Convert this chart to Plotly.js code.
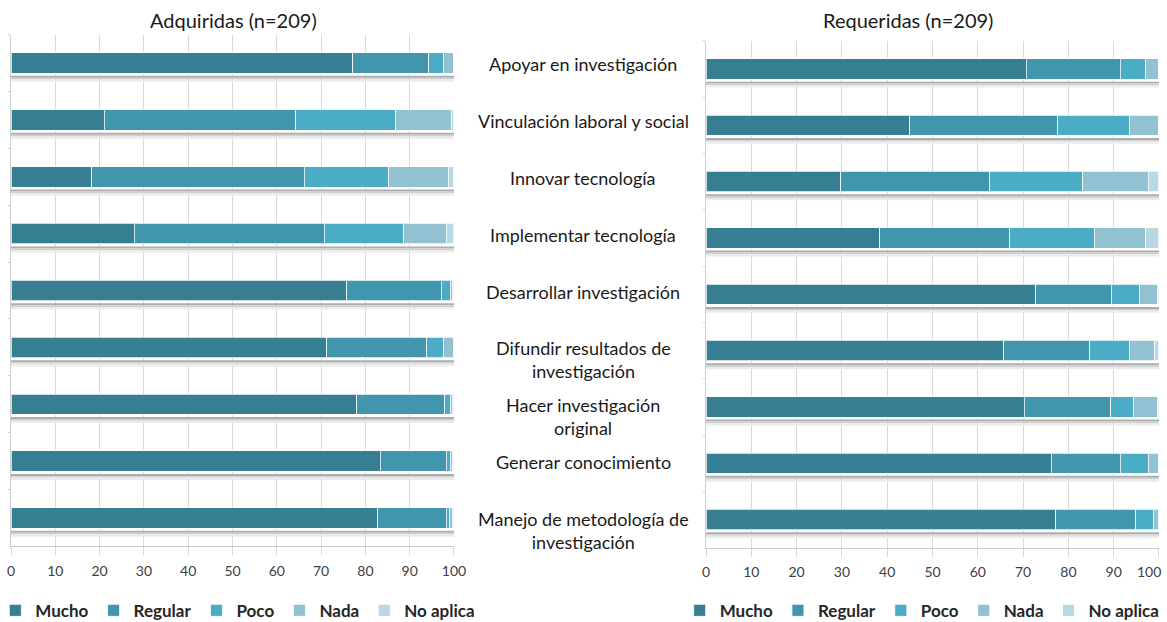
<!DOCTYPE html>
<html>
<head>
<meta charset="utf-8">
<script src="https://cdn.plot.ly/plotly-3.0.1.min.js"></script>
<style>html,body{margin:0;padding:0;background:#fff;}#chart{width:1167px;height:622px;}</style>
</head>
<body>
<div id="chart"></div>
<script>
const categories = [
  'Apoyar en investigación',
  'Vinculación laboral y social',
  'Innovar tecnología',
  'Implementar tecnología',
  'Desarrollar investigación',
  'Difundir resultados de investigación',
  'Hacer investigación original',
  'Generar conocimiento',
  'Manejo de metodología de investigación'
];
const categoryLabels = [
  'Apoyar en investigación',
  'Vinculación laboral y social',
  'Innovar tecnología',
  'Implementar tecnología',
  'Desarrollar investigación',
  'Difundir resultados de<br>investigación',
  'Hacer investigación<br>original',
  'Generar conocimiento',
  'Manejo de metodología de<br>investigación'
];
const seriesNames = ['Mucho', 'Regular', 'Poco', 'Nada', 'No aplica'];

// Adquiridas (n=209), %
const adqMucho    = [77.1, 21.0, 18.2, 27.8, 75.8, 71.3, 78.0, 83.3, 82.8];
const adqRegular  = [17.2, 43.3, 48.0, 42.9, 21.3, 22.6, 19.9, 15.0, 15.4];
const adqPoco     = [3.4, 22.5, 19.1, 17.9, 2.0, 3.8, 1.2, 0.8, 0.8];
const adqNada     = [2.3, 12.7, 13.4, 9.6, 0.6, 2.3, 0.5, 0.6, 0.6];
const adqNoAplica = [0.0, 0.5, 1.3, 1.8, 0.3, 0.0, 0.4, 0.3, 0.4];

// Requeridas (n=209), %
const reqMucho    = [70.7, 45.0, 29.7, 38.3, 72.8, 65.7, 70.3, 76.2, 77.2];
const reqRegular  = [20.8, 32.6, 32.9, 28.7, 16.7, 19.0, 19.1, 15.3, 17.7];
const reqPoco     = [5.6, 15.8, 20.6, 18.7, 6.2, 8.7, 4.9, 6.1, 3.8];
const reqNada     = [2.9, 6.6, 14.4, 11.4, 3.9, 5.7, 5.3, 2.4, 1.3];
const reqNoAplica = [0.0, 0.0, 2.4, 2.9, 0.4, 0.9, 0.4, 0.0, 0.0];

const xTickVals = [0, 10, 20, 30, 40, 50, 60, 70, 80, 90, 100];
const xTickText = ['0', '10', '20', '30', '40', '50', '60', '70', '80', '90', '100'];

const colors = ['#367E92', '#4196AE', '#4AACC5', '#92C1D1', '#B8D8E3'];
const FONT = 'Lato, "Open Sans", "Noto Sans", sans-serif';
const TICKFONT = {family: FONT, size: 14, color: '#404040'};

const adq = [adqMucho, adqRegular, adqPoco, adqNada, adqNoAplica];
const req = [reqMucho, reqRegular, reqPoco, reqNada, reqNoAplica];

const traces = [];
function addSet(values, xa, ya, legendId) {
  values.forEach((vals, k) => {
    traces.push({
      type: 'bar', orientation: 'h',
      x: vals, y: categories,
      name: seriesNames[k],
      xaxis: xa, yaxis: ya,
      legend: legendId,
      width: 0.36,
      marker: {color: colors[k], line: {color: 'rgba(255,255,255,0.75)', width: 1}},
      hoverinfo: 'x+name'
    });
  });
}
addSet(adq, 'x', 'y', 'legend');
addSet(req, 'x2', 'y2', 'legend2');

// bar "shadow" decorations under every bar
const shapes = [];
function addShadows(xref, yref) {
  categories.forEach((c, i) => {
    const bands = [[0.225, 0.26, '#adadad'], [0.26, 0.29, '#cfcfcf'], [0.29, 0.33, '#ebebeb']];
    bands.forEach(b => shapes.push({
      type: 'rect', xref: xref, yref: yref, layer: 'above',
      x0: 0, x1: 100, y0: i + b[0], y1: i + b[1],
      fillcolor: b[2], line: {width: 0}
    }));
  });
}
addShadows('x', 'y');
addShadows('x2', 'y2');

const annotations = [
  {text: 'Adquiridas (n=209)', xref: 'paper', yref: 'paper', x: 0.2005, y: 0.968,
   xanchor: 'center', yanchor: 'middle', showarrow: false, font: {family: FONT, size: 20, color: '#1a1a1a'}},
  {text: 'Requeridas (n=209)', xref: 'paper', yref: 'paper', x: 0.778, y: 0.968,
   xanchor: 'center', yanchor: 'middle', showarrow: false, font: {family: FONT, size: 20, color: '#1a1a1a'}},
  // last tick label of the right-hand axis, pulled inward as in the original so it stays on the page
  {text: xTickText[xTickText.length - 1], xref: 'x2', yref: 'paper',
   x: xTickVals[xTickVals.length - 1], y: 0.0804,
   xanchor: 'right', yanchor: 'middle', xshift: 4, showarrow: false, font: TICKFONT}
];
categoryLabels.forEach((lab, i) => {
  annotations.push({
    text: lab, xref: 'paper', yref: 'y', x: 0.4996, y: categories[i],
    xanchor: 'center', yanchor: 'top', yshift: 12, align: 'center', showarrow: false,
    font: {family: FONT, size: 18, color: '#1a1a1a'}
  });
});

function xAxis(domain, anchor, ticktext) {
  return {
    domain: domain, anchor: anchor, range: [0, 100],
    tickmode: 'array', tickvals: xTickVals, ticktext: ticktext,
    showgrid: true, gridcolor: '#d9d9d9', gridwidth: 1, zeroline: false,
    showline: true, linecolor: '#c8c8c8', linewidth: 1,
    ticks: 'outside', ticklen: 8, tickcolor: '#d9d9d9', ticklabelstandoff: 4,
    ticklabeloverflow: 'allow',
    tickfont: TICKFONT, fixedrange: true
  };
}
function yAxis(domain, anchor) {
  return {
    domain: domain, anchor: anchor, type: 'category', autorange: 'reversed',
    showticklabels: false, showgrid: false, zeroline: false,
    showline: true, linecolor: '#d0d0d0', linewidth: 1,
    ticks: 'outside', tickson: 'boundaries', ticklen: 2, tickcolor: '#d0d0d0', fixedrange: true
  };
}
const xTickTextRight = xTickText.map((t, i) => i === xTickText.length - 1 ? '' : t);

const legendBase = {
  orientation: 'h', yref: 'paper', y: 0.018, yanchor: 'middle',
  font: {family: FONT, size: 17, color: '#262626', weight: 'bold'},
  itemwidth: 30, bgcolor: 'rgba(0,0,0,0)', traceorder: 'normal', itemclick: false
};

const layout = {
  width: 1167, height: 622,
  margin: {l: 0, r: 0, t: 0, b: 0, autoexpand: false},
  paper_bgcolor: '#ffffff', plot_bgcolor: '#ffffff',
  barmode: 'stack', bargap: 0.64,
  showlegend: true,
  xaxis: xAxis([0.00943, 0.38903], 'y', xTickText),
  yaxis: yAxis([0.1215, 0.9444], 'x'),
  xaxis2: xAxis([0.60497, 0.99314], 'y2', xTickTextRight),
  yaxis2: yAxis([0.1195, 0.9344], 'x2'),
  legend: Object.assign({}, legendBase, {x: -0.004, xanchor: 'left'}),
  legend2: Object.assign({}, legendBase, {x: 0.998, xanchor: 'right'}),
  shapes: shapes,
  annotations: annotations,
  font: {family: FONT}
};

Plotly.newPlot('chart', traces, layout, {displayModeBar: false});
</script>
</body>
</html>
